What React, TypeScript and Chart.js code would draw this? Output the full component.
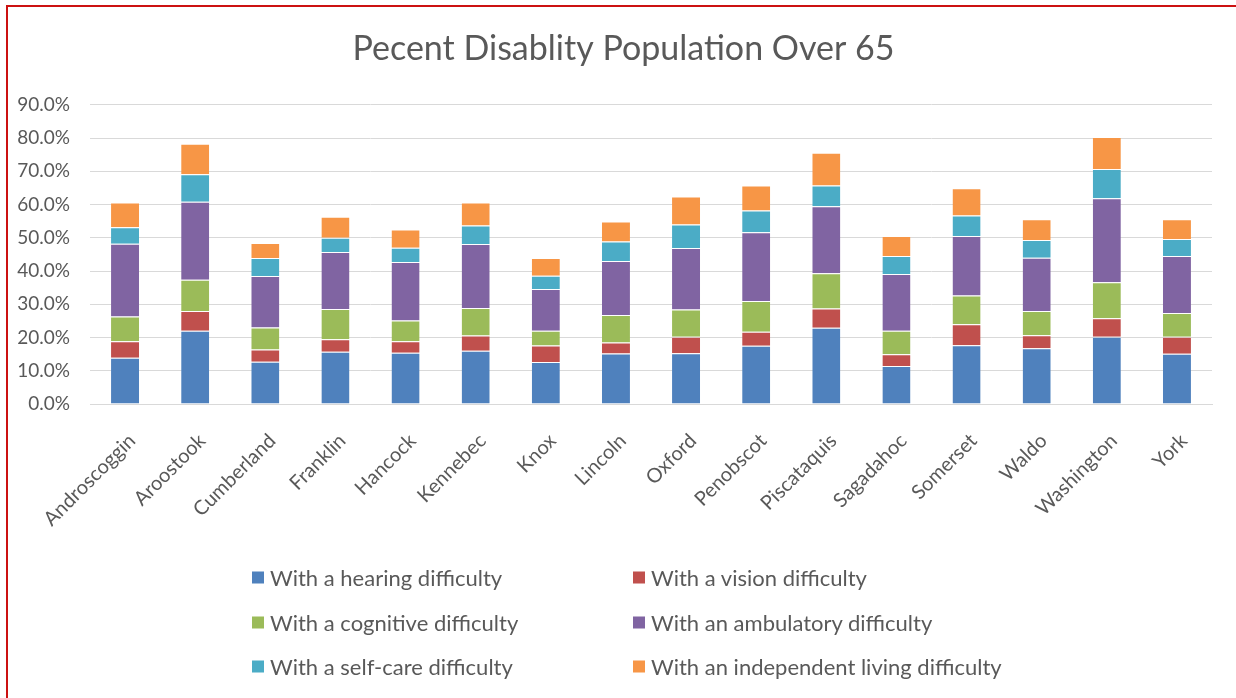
import React, { useEffect, useRef } from "react";
import { Chart, registerables } from "chart.js";

Chart.register(...registerables);

const counties = [
  "Androscoggin", "Aroostook", "Cumberland", "Franklin", "Hancock", "Kennebec",
  "Knox", "Lincoln", "Oxford", "Penobscot", "Piscataquis", "Sagadahoc",
  "Somerset", "Waldo", "Washington", "York",
];

const hearing = [13.9, 22.0, 12.7, 15.7, 15.4, 16.0, 12.6, 15.2, 15.3, 17.5, 22.9, 11.4, 17.7, 16.8, 20.2, 15.1];
const vision = [5.0, 6.0, 3.7, 3.8, 3.5, 4.6, 5.0, 3.3, 4.9, 4.2, 5.8, 3.6, 6.3, 3.9, 5.6, 5.1];
const cognitive = [7.4, 9.4, 6.6, 9.1, 6.2, 8.3, 4.4, 8.3, 8.2, 9.3, 10.6, 7.0, 8.6, 7.3, 10.8, 7.2];
const ambulatory = [21.9, 23.4, 15.5, 17.1, 17.6, 19.2, 12.6, 16.2, 18.5, 20.7, 20.2, 17.1, 17.9, 16.0, 25.3, 17.1];
const selfCare = [5.0, 8.3, 5.4, 4.3, 4.3, 5.6, 4.0, 5.9, 7.1, 6.5, 6.2, 5.4, 6.2, 5.3, 8.8, 5.1];
const independentLiving = [7.4, 9.2, 4.5, 6.3, 5.5, 6.9, 5.3, 6.0, 8.4, 7.5, 9.9, 6.0, 8.2, 6.3, 9.6, 6.0];

const yTicks = [0, 10, 20, 30, 40, 50, 60, 70, 80, 90];

const seriesLabels = [
  "With a hearing difficulty",
  "With a vision difficulty",
  "With a cognitive difficulty",
  "With an ambulatory difficulty",
  "With a self-care difficulty",
  "With an independent living difficulty",
];
const seriesColors = ["#4F81BD", "#C0504D", "#9BBB59", "#8064A2", "#4BACC6", "#F79646"];
const seriesValues = [hearing, vision, cognitive, ambulatory, selfCare, independentLiving];

const TEXT = "#595959";
const FONT = "Lato, 'Open Sans', sans-serif";

// Centre the title across the framed figure rather than the plot's layout box.
const titleSpan = {
  id: "titleSpan",
  afterLayout(chart: any) {
    const tb = chart.titleBlock;
    if (tb) {
      tb.left = 35;
      tb.right = 1212;
    }
  },
};

export default function App() {
  const canvasRef = useRef<HTMLCanvasElement | null>(null);

  useEffect(() => {
    if (!canvasRef.current) return;
    const chart = new Chart(canvasRef.current, {
      type: "bar",
      data: {
        labels: counties,
        datasets: seriesValues.map((values, i) => ({
          label: seriesLabels[i],
          data: values,
          backgroundColor: seriesColors[i],
          borderColor: "rgba(255,255,255,0.45)",
          borderWidth: { top: 1, bottom: 0, left: 0, right: 0 },
          borderSkipped: false,
          categoryPercentage: 1,
          barPercentage: 0.4,
        })),
      },
      plugins: [titleSpan],
      options: {
        responsive: false,
        animation: false,
        devicePixelRatio: 1,
        layout: { padding: { left: 0, right: 24, top: 0, bottom: 0 } },
        plugins: {
          legend: { display: false },
          tooltip: { enabled: false },
          title: {
            display: true,
            text: "Pecent Disablity Population Over 65",
            color: TEXT,
            font: { family: FONT, size: 34, weight: "normal" },
            padding: { top: 29, bottom: 35 },
          },
        },
        scales: {
          x: {
            stacked: true,
            grid: { display: false, drawTicks: false },
            border: { display: true, color: "#d9d9d9", width: 1 },
            ticks: {
              color: TEXT,
              font: { family: FONT, size: 20 },
              minRotation: 45,
              maxRotation: 45,
              padding: 25,
              labelOffset: 7,
              autoSkip: false,
            },
            afterFit: (scale: any) => {
              scale.height = 294;
              scale.paddingLeft = 0;
              scale.paddingRight = 0;
            },
          },
          y: {
            stacked: true,
            min: 0,
            max: 90,
            afterBuildTicks: (scale: any) => {
              scale.ticks = yTicks.map((v) => ({ value: v }));
            },
            grid: { color: "#d9d9d9", lineWidth: 1, drawTicks: false },
            border: { display: false },
            ticks: {
              color: TEXT,
              font: { family: FONT, size: 19 },
              padding: 20,
              callback: (v: any) => Number(v).toFixed(1) + "%",
            },
            afterFit: (scale: any) => {
              scale.width = 90;
              scale.paddingTop = 0;
              scale.paddingBottom = 0;
            },
          },
        },
      },
    });
    return () => chart.destroy();
  }, []);

  const legendPos = [
    { left: 252, top: 577 },
    { left: 633, top: 577 },
    { left: 252, top: 622 },
    { left: 633, top: 622 },
    { left: 252, top: 666 },
    { left: 633, top: 666 },
  ];

  return (
    <div
      style={{
        position: "fixed",
        left: 0,
        top: 0,
        width: 1236,
        height: 698,
        background: "#ffffff",
        overflow: "hidden",
      }}
    >
      <div
        style={{
          position: "absolute",
          left: 6,
          top: 5,
          width: 1300,
          height: 800,
          border: "2px solid #cc1111",
        }}
      />
      <canvas
        ref={canvasRef}
        width={1236}
        height={698}
        style={{ position: "absolute", left: 0, top: 0, width: 1236, height: 698 }}
      />
      {seriesLabels.map((label, i) => (
        <div
          key={label}
          style={{
            position: "absolute",
            left: legendPos[i].left,
            top: legendPos[i].top,
            transform: "translateY(-50%)",
            display: "flex",
            alignItems: "center",
            fontFamily: FONT,
            fontSize: 22,
            color: TEXT,
            whiteSpace: "nowrap",
          }}
        >
          <span
            style={{
              display: "inline-block",
              width: 12,
              height: 12,
              background: seriesColors[i],
              marginRight: 6,
            }}
          />
          <span>{label}</span>
        </div>
      ))}
    </div>
  );
}
